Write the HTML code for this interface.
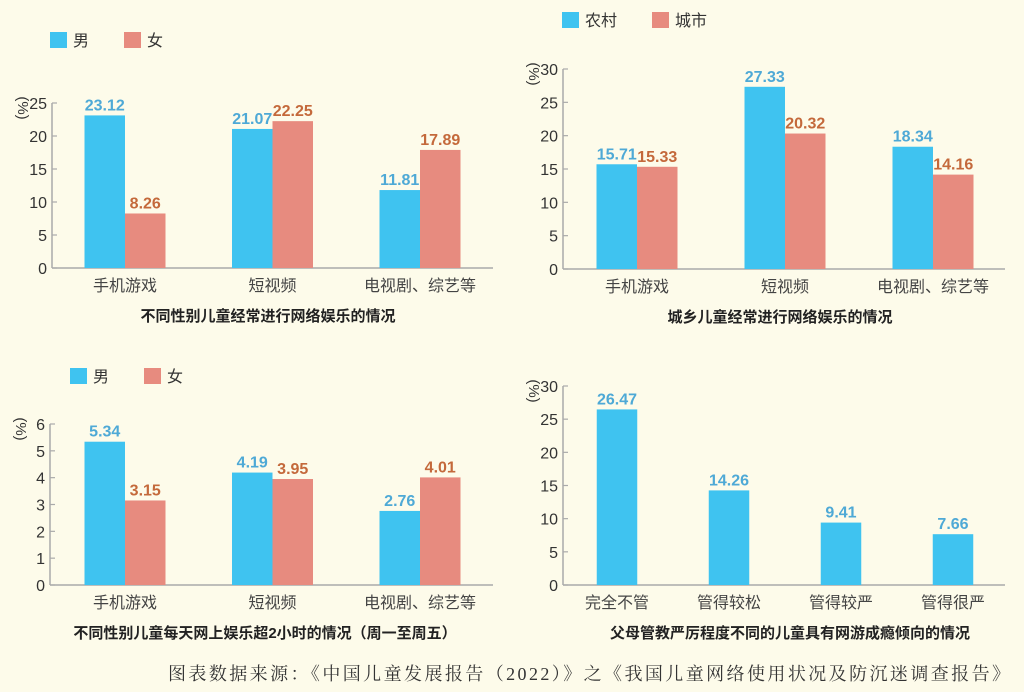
<!DOCTYPE html>
<html><head><meta charset="utf-8">
<style>
body{margin:0;background:#fdfbea;}
svg{display:block;font-family:"Liberation Sans","Noto Sans CJK SC",sans-serif;}
</style></head>
<body>
<svg id="s" width="1024" height="692" viewBox="0 0 1024 692" xmlns="http://www.w3.org/2000/svg">
<rect width="1024" height="692" fill="#fdfbea"/>
<text x="168" y="680" textLength="842" lengthAdjust="spacing" font-family="'Liberation Serif','Noto Serif CJK SC',serif" font-size="18" fill="#333">图表数据来源：《中国儿童发展报告（2022）》之《我国儿童网络使用状况及防沉迷调查报告》</text>
</svg>
<script>
// Chart 1
const c1Categories = ["手机游戏","短视频","电视剧、综艺等"];
const c1Male = [23.12, 21.07, 11.81];
const c1Female = [8.26, 22.25, 17.89];
const c1Ticks = [0,5,10,15,20,25];
// Chart 2
const c2Categories = ["手机游戏","短视频","电视剧、综艺等"];
const c2Rural = [15.71, 27.33, 18.34];
const c2Urban = [15.33, 20.32, 14.16];
const c2Ticks = [0,5,10,15,20,25,30];
// Chart 3
const c3Categories = ["手机游戏","短视频","电视剧、综艺等"];
const c3Male = [5.34, 4.19, 2.76];
const c3Female = [3.15, 3.95, 4.01];
const c3Ticks = [0,1,2,3,4,5,6];
// Chart 4
const c4Categories = ["完全不管","管得较松","管得较严","管得很严"];
const c4Values = [26.47, 14.26, 9.41, 7.66];
const c4Ticks = [0,5,10,15,20,25,30];

const NS="http://www.w3.org/2000/svg";
const svg=document.getElementById('s');
const BLUE="#3fc3f0", PINK="#e78b7f", BLUET="#4ea9d6", PINKT="#c4693b";
function mk(tag,attrs,parent){const e=document.createElementNS(NS,tag);for(const k in attrs)e.setAttribute(k,attrs[k]);(parent||svg).appendChild(e);return e;}

function drawChart(cfg){
  const g=mk('g',{});
  
  
  const max=cfg.ticks[cfg.ticks.length-1];
  const y=v=>cfg.y0-(cfg.y0-cfg.yTop)*v/max;
  const x=i=>cfg.c0+i*cfg.step;
  const ya=mk('line',{x1:cfg.x0,y1:cfg.yTop,x2:cfg.x0,y2:cfg.y0,stroke:'#aaa','stroke-width':1.5},g);
  
  
  const xa=mk('line',{x1:cfg.x0,y1:cfg.y0,x2:cfg.xEnd,y2:cfg.y0,stroke:'#aaa','stroke-width':1.5},g);
  
  
  cfg.ticks.forEach(t=>{
    const tk=mk('line',{x1:cfg.x0,y1:y(t),x2:cfg.x0+5,y2:y(t),stroke:'#aaa','stroke-width':1.2},g);
    
    
    const tl=mk('text',{x:cfg.x0-5,y:y(t)+6,'text-anchor':'end','font-size':16,fill:'#333'},g);
    tl.textContent=t;
    
    
  });
  const u=mk('text',{x:0,y:0,'font-size':15,fill:'#333','text-anchor':'middle',transform:`translate(${cfg.x0-34},${cfg.yTop+5}) rotate(90)`},g);
  u.textContent='(%)';
  
  
  const bw=40.5;
  cfg.cats.forEach((c,i)=>{
    const cl=mk('text',{x:x(i),y:cfg.y0+23,'text-anchor':'middle','font-size':16,fill:'#444'},g);
    cl.textContent=c;
    
    
    cfg.series.forEach((s,si)=>{
      const v=s.vals[i];
      const bx=cfg.series.length===2?(si===0?x(i)-bw:x(i)):x(i)-bw/2;
      const r=mk('rect',{x:bx,y:y(v),width:bw,height:cfg.y0-y(v),fill:s.color},g);
      
      
      const vt=mk('text',{x:bx+bw/2,y:y(v)-5,'text-anchor':'middle','font-size':16,'font-weight':'bold',fill:s.tcolor},g);
      vt.textContent=v.toFixed(2);
      
      
    });
  });
  const t=mk('text',{x:cfg.titleX,y:cfg.y0+53,'text-anchor':'middle','font-size':15,'font-weight':'bold',fill:'#222'},g);
  t.textContent=cfg.title;
  
  
  if(cfg.legend){
    let lx=cfg.legend.x;
    cfg.series.forEach((s,si)=>{
      const sw=mk('rect',{x:lx,y:cfg.legend.y,width:17,height:16,fill:s.color},g);
      
      
      const lt=mk('text',{x:lx+23,y:cfg.legend.y+14,'font-size':16,fill:'#333'},g);
      lt.textContent=s.label;
      
      
      lx+=cfg.legend.gap;
    });
  }
}
drawChart({name:'chart-gender-entertainment',cats:c1Categories,ticks:c1Ticks,x0:52,xEnd:493,y0:268,yTop:103,c0:125,step:147.5,
  series:[{key:'male',label:'男',vals:c1Male,color:BLUE,tcolor:BLUET},{key:'female',label:'女',vals:c1Female,color:PINK,tcolor:PINKT}],
  title:'不同性别儿童经常进行网络娱乐的情况',titleX:268,legend:{x:50,y:32,gap:74}});
drawChart({name:'chart-urban-rural',cats:c2Categories,ticks:c2Ticks,x0:563,xEnd:1005,y0:269,yTop:69,c0:637,step:148,
  series:[{key:'rural',label:'农村',vals:c2Rural,color:BLUE,tcolor:BLUET},{key:'urban',label:'城市',vals:c2Urban,color:PINK,tcolor:PINKT}],
  title:'城乡儿童经常进行网络娱乐的情况',titleX:780,legend:{x:562,y:12,gap:90}});
drawChart({name:'chart-gender-over-2h',cats:c3Categories,ticks:c3Ticks,x0:50,xEnd:493,y0:585,yTop:424,c0:125,step:147.5,
  series:[{key:'male',label:'男',vals:c3Male,color:BLUE,tcolor:BLUET},{key:'female',label:'女',vals:c3Female,color:PINK,tcolor:PINKT}],
  title:'不同性别儿童每天网上娱乐超2小时的情况（周一至周五）',titleX:265,legend:{x:70,y:368,gap:74}});
drawChart({name:'chart-parenting-strictness',cats:c4Categories,ticks:c4Ticks,x0:563,xEnd:1005,y0:585,yTop:386,c0:617,step:112,
  series:[{key:'addiction',label:'',vals:c4Values,color:BLUE,tcolor:BLUET}],
  title:'父母管教严厉程度不同的儿童具有网游成瘾倾向的情况',titleX:790});
</script>
</body></html>
